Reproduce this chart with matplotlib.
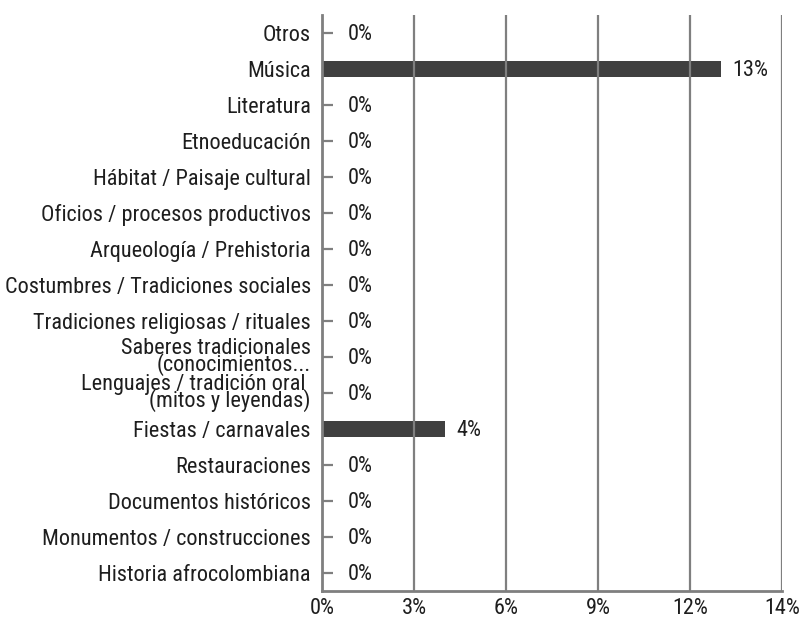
import matplotlib
matplotlib.use("Agg")
import matplotlib.pyplot as plt

categories = [
    "Otros",
    "Música",
    "Literatura",
    "Etnoeducación",
    "Hábitat / Paisaje cultural",
    "Oficios / procesos productivos",
    "Arqueología / Prehistoria",
    "Costumbres / Tradiciones sociales",
    "Tradiciones religiosas / rituales",
    "Saberes tradicionales\n(conocimientos...",
    "Lenguajes / tradición oral \n(mitos y leyendas)",
    "Fiestas / carnavales",
    "Restauraciones",
    "Documentos históricos",
    "Monumentos / construcciones",
    "Historia afrocolombiana",
]
values = [0, 13, 0, 0, 0, 0, 0, 0, 0, 0, 0, 4, 0, 0, 0, 0]
value_labels = ["0%", "13%", "0%", "0%", "0%", "0%", "0%", "0%", "0%", "0%", "0%", "4%", "0%", "0%", "0%", "0%"]
xtick_values = [0, 3, 6, 9, 12, 15]
xtick_labels = ["0%", "3%", "6%", "9%", "12%", "14%"]

plt.rcParams["font.family"] = ["Roboto Condensed", "DejaVu Sans"]

FS = 16
TXT = "#1e1e1e"
GRID = "#7f7f7f"

fig = plt.figure(figsize=(8.01, 6.18), dpi=100)
ax = fig.add_axes([322 / 801, 1 - 591 / 618, (782 - 322) / 801, (591 - 15) / 618])

ypos = list(range(len(categories)))
ax.barh(ypos, values, height=0.47, color="#404040", zorder=2)

ax.set_xlim(0, 15)
ax.set_ylim(len(categories) - 0.5, -0.5)

ax.set_xticks(xtick_values)
ax.set_xticklabels(xtick_labels, fontsize=FS, color=TXT)
ax.set_yticks(ypos)
ax.set_yticklabels(categories, fontsize=FS, color=TXT, linespacing=0.7)

ax.tick_params(axis="x", length=0, pad=5)
ax.tick_params(axis="y", direction="in", length=8, width=1.6, color=GRID, pad=8)

for x in xtick_values[1:]:
    ax.axvline(x, color=GRID, lw=1.6, zorder=3)

for s in ["top", "right"]:
    ax.spines[s].set_visible(False)
for s in ["left", "bottom"]:
    ax.spines[s].set_color(GRID)
    ax.spines[s].set_linewidth(2)
    ax.spines[s].set_zorder(4)

for y, v, lab in zip(ypos, values, value_labels):
    off = 12 if v > 0 else 26
    ax.annotate(lab, (v, y), xytext=(off, -2), textcoords="offset pixels",
                ha="left", va="center", fontsize=FS, color=TXT)

fig.savefig("out.png", dpi=100, facecolor="white")
